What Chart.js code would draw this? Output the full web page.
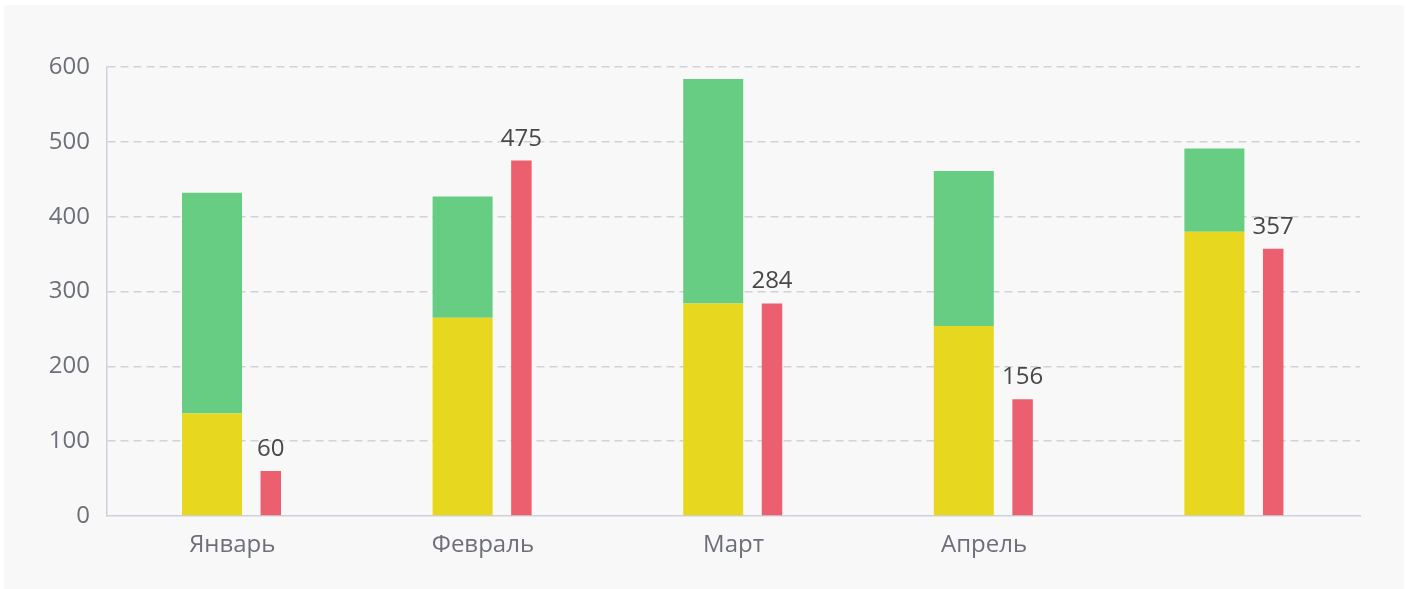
<!DOCTYPE html>
<html>
<head>
<meta charset="utf-8">
<script src="https://cdn.jsdelivr.net/npm/chart.js@4/dist/chart.umd.min.js"></script>
<style>
  html, body { margin: 0; padding: 0; background: #fff; }
  #panel { position: absolute; left: 4px; top: 5px; width: 1400px; height: 584px; background: #f8f8f8; }
  #salesChart { position: absolute; left: 0; top: 0; }
</style>
</head>
<body>
<div id="panel"></div>
<canvas id="salesChart" width="1410" height="589"></canvas>
<script>
// данные по месяцам
const months = ['Январь', 'Февраль', 'Март', 'Апрель', ''];
const yellowValues = [137, 265, 284, 254, 380];
const greenValues = [295, 162, 300, 207, 111];
const redValues = [60, 475, 284, 156, 357];
const yTicks = [0, 100, 200, 300, 400, 500, 600];

const FONT = '"Open Sans", "Noto Sans", sans-serif';

// подписи над красными столбиками
const redLabels = {
  id: 'redLabels',
  afterDatasetsDraw(chart) {
    const ctx = chart.ctx;
    const meta = chart.getDatasetMeta(2);
    ctx.save();
    ctx.font = '24px ' + FONT;
    ctx.fillStyle = '#484848';
    ctx.textAlign = 'center';
    ctx.textBaseline = 'alphabetic';
    meta.data.forEach((bar, i) => {
      ctx.fillText(String(redValues[i]), bar.x, bar.y - 15);
    });
    ctx.restore();
  }
};

const ctx = document.getElementById('salesChart').getContext('2d');
new Chart(ctx, {
  type: 'bar',
  data: {
    labels: months,
    datasets: [
      {
        data: yellowValues,
        backgroundColor: '#e8d71f',
        stack: 'a',
        categoryPercentage: 0.324,
        barPercentage: 1.478
      },
      {
        data: greenValues,
        backgroundColor: '#66cd83',
        stack: 'a',
        categoryPercentage: 0.324,
        barPercentage: 1.478
      },
      {
        data: redValues,
        backgroundColor: '#ec5f6e',
        stack: 'b',
        categoryPercentage: 0.6145,
        barPercentage: 0.266
      }
    ]
  },
  options: {
    responsive: false,
    animation: false,
    layout: { padding: { top: 67, right: 50, left: 0, bottom: 0 } },
    plugins: {
      legend: { display: false },
      tooltip: { enabled: false }
    },
    scales: {
      x: {
        stacked: true,
        grid: { display: false, drawTicks: false },
        border: { display: true, color: '#cdd1db', width: 1.5 },
        ticks: {
          color: '#6e7079',
          font: { family: FONT, size: 24 },
          padding: 15,
          maxRotation: 0
        },
        afterFit(scale) { scale.height = 73; }
      },
      y: {
        stacked: true,
        min: 0,
        max: 600,
        afterBuildTicks(scale) { scale.ticks = yTicks.map(v => ({ value: v })); },
        grid: {
          color: (c) => c.tick && c.tick.value === 0 ? 'rgba(0,0,0,0)' : '#d0d2d9',
          lineWidth: 1.5,
          drawTicks: false
        },
        border: { display: true, color: '#cdd1db', width: 1.5, dash: [8, 5] },
        ticks: {
          color: '#6e7079',
          font: { family: FONT, size: 24 },
          padding: 17
        },
        afterFit(scale) { scale.width = 107; }
      }
    }
  },
  plugins: [redLabels]
});
</script>
</body>
</html>
